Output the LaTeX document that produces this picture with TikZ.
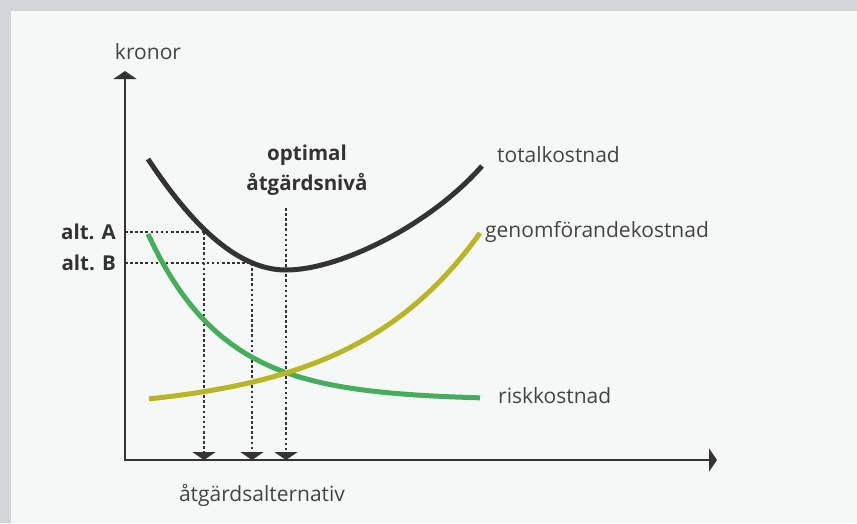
\documentclass[tikz,border=0pt]{standalone}
\usepackage{fontspec}
\setmainfont{Open Sans}
\usepackage{tikz}
\usetikzlibrary{arrows.meta, positioning, calc}
\definecolor{frame}{HTML}{D4D5D7}
\definecolor{paper}{HTML}{F6F7F7}
\definecolor{ink}{HTML}{333333}
\definecolor{txt}{HTML}{444444}
\definecolor{riskgreen}{HTML}{45AD5C}
\definecolor{genyellow}{HTML}{B8B527}
\tikzset{axis/.style={draw=ink, line width=2.4pt, -{Triangle[width=23pt,length=8pt]}}}
\tikzset{guide/.style={draw=ink, line width=2.8pt, dash pattern=on 2.6pt off 2.5pt}}
\tikzset{guidearrow/.style={guide, -{Triangle[width=23pt,length=8pt,sep=0pt]}}}
\tikzset{crv/.style={line width=5pt}}
\tikzset{lbl/.style={inner sep=0pt, text=txt, font=\fontsize{21}{25}\selectfont}}
\tikzset{blbl/.style={lbl, text=ink, font=\fontsize{20.5}{30}\selectfont\bfseries}}

\begin{document}
\begin{tikzpicture}[x=1pt, y=-1pt]
    \useasboundingbox (0,0) rectangle (857,523);
    \fill[frame] (0,0) rectangle (857,523);
    \fill[paper] (11,11) rectangle (857,523);

    \coordinate (o) at (125,460);
    \coordinate (ytip) at (125,71);
    \coordinate (xtip) at (717,460);

    \coordinate (ya) at (125,232);
    \coordinate (ca) at (204,232);
    \coordinate (xa) at (204,460);
    \coordinate (yb) at (125,263);
    \coordinate (cb) at (252,263);
    \coordinate (xb) at (252,460);
    \coordinate (copt) at (286,208);
    \coordinate (xopt) at (286,460);

    \draw[guide] (ya) -- (ca);
    \draw[guide] (yb) -- (cb);
    \draw[guidearrow] (ca) -- (xa);
    \draw[guidearrow] (cb) -- (xb);
    \draw[guidearrow] (copt) -- (xopt);

    \draw[axis] (o) -- (ytip);
    \draw[axis] ($(o)+(-1.2,0)$) -- (xtip);

    \draw[crv, riskgreen] plot[domain=148:480, samples=90] (\x, {400-166*exp(-(\x-148)/76.7)});
    \draw[crv, genyellow] plot[domain=149:480, samples=90] (\x, {412.4-13.41*exp((\x-148)/128)});
    \draw[crv, ink] (148,159) .. controls (195,230) and (240,270) .. (286,270)
                    .. controls (340,270) and (430,225) .. (482,166);

    \node[lbl] (kronor) at (148,52) {kronor};
    \node[lbl] (xlabel) at (262,495) {åtgärdsalternativ};
    \node[blbl, anchor=east] (alta) at (116,232) {alt. A};
    \node[blbl, anchor=east] (altb) at (116,263) {alt. B};
    \node[blbl, align=center] (opt) at (307,170) {optimal\\åtgärdsnivå};
    \node[lbl, anchor=west] (total) at (497,155) {totalkostnad};
    \node[lbl, anchor=west] (genom) at (485,232) {genomförandekostnad};
    \node[lbl, anchor=west] (risk) at (498,396) {riskkostnad};
\end{tikzpicture}
\end{document}
